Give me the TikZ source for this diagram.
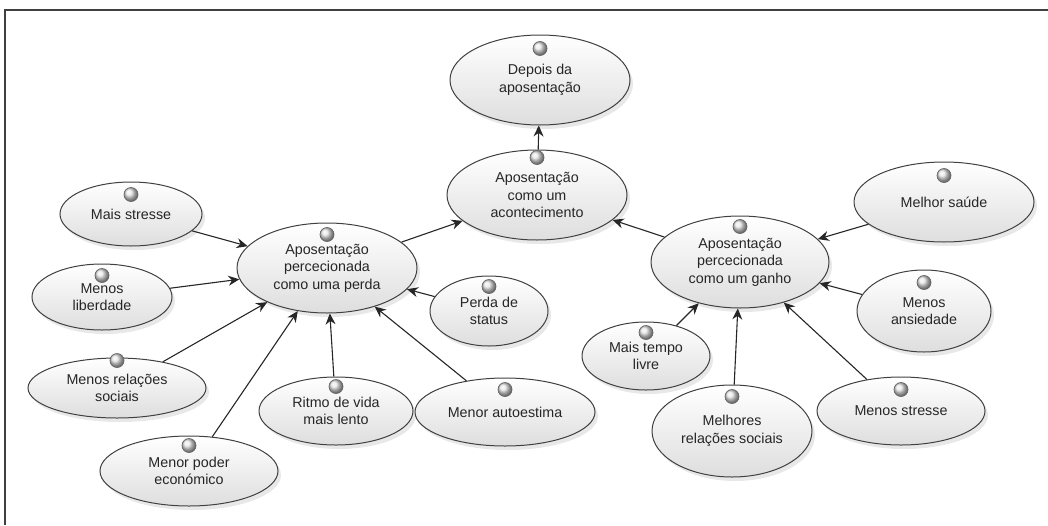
\documentclass[tikz,border=0pt]{standalone}
\usepackage{fontspec}
\setmainfont{Liberation Sans}
\usetikzlibrary{shapes.geometric,arrows.meta,shadows}

\begin{document}
\begin{tikzpicture}[x=1pt,y=-1pt,
  every node/.style={font=\fontsize{14.3}{17.5}\selectfont,text=black!85},
  uc/.style={ellipse,draw=black!75,line width=1pt,inner sep=0pt,align=center,
    top color=white,bottom color=black!13,
    drop shadow={opacity=0.18,shadow xshift=3pt,shadow yshift=-4pt}},
  ball/.style={circle,draw=black!60,line width=0.7pt,minimum size=14pt,inner sep=0pt,
    shading=ball,ball color=black!10},
  link/.style={-{Stealth[length=11pt,width=10pt]},draw=black!85,line width=1.1pt}]
\useasboundingbox (0,0) rectangle (1048,525);
% frame (top and left only)
\draw[line width=2pt,black!75] (5,525) -- (5,10) -- (1048,10);
% use cases
\node[uc,minimum width=180pt,minimum height=90pt] (depois) at (540,80) {Depois da\\aposentação};
\node[uc,minimum width=180pt,minimum height=90pt] (evento) at (537,195) {Aposentação\\como um\\acontecimento};
\node[uc,minimum width=180pt,minimum height=90pt] (perda) at (327,268) {Aposentação\\percecionada\\como uma perda};
\node[uc,minimum width=178pt,minimum height=92pt] (ganho) at (740,262) {Aposentação\\percecionada\\como um ganho};
\node[uc,minimum width=142pt,minimum height=64pt] (maisstr) at (131,214) {Mais stresse};
\node[uc,minimum width=140pt,minimum height=66pt] (menoslib) at (102,297) {Menos\\liberdade};
\node[uc,minimum width=178pt,minimum height=60pt] (menosrel) at (117,388) {Menos relações\\sociais};
\node[uc,minimum width=178pt,minimum height=70pt] (poder) at (189,471) {Menor poder\\económico};
\node[uc,minimum width=154pt,minimum height=68pt] (ritmo) at (336,411) {Ritmo de vida\\mais lento};
\node[uc,minimum width=180pt,minimum height=68pt] (autoest) at (505,412) {Menor autoestima};
\node[uc,minimum width=118pt,minimum height=70pt] (status) at (489,311) {Perda de\\status};
\node[uc,minimum width=180pt,minimum height=80pt] (saude) at (944,202) {Melhor saúde};
\node[uc,minimum width=134pt,minimum height=82pt] (ansied) at (924,311) {Menos\\ansiedade};
\node[uc,minimum width=168pt,minimum height=68pt] (menosstr) at (901,411) {Menos stresse};
\node[uc,minimum width=160pt,minimum height=92pt] (melhores) at (732,431) {Melhores\\relações sociais};
\node[uc,minimum width=128pt,minimum height=68pt] (tempo) at (646,356) {Mais tempo\\livre};
% little balls on top
\foreach \n/\d in {depois/14,evento/8,perda/12,ganho/11,maisstr/13,menoslib/12,menosrel/3,
  poder/10,ritmo/10,autoest/12,status/11,saude/14,ansied/13,menosstr/13,melhores/12,tempo/11}
  \node[ball] (\n-b) at ([yshift=-\d pt]\n.north) {};
% links
\draw[link] (evento) -- (depois);
\draw[link] (perda) -- (evento);
\draw[link] (ganho) -- (evento);
\foreach \s in {maisstr,menoslib,menosrel,poder,ritmo,autoest,status}
  \draw[link] (\s) -- (perda);
\foreach \s in {saude,ansied,menosstr,melhores,tempo}
  \draw[link] (\s) -- (ganho);
\end{tikzpicture}
\end{document}
